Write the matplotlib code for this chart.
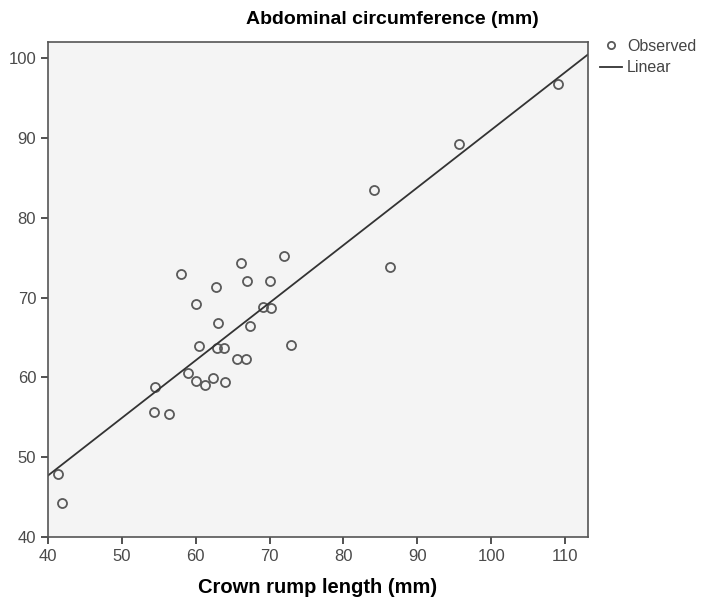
import matplotlib
matplotlib.use("Agg")
import matplotlib.pyplot as plt
import numpy as np

# Crown rump length (mm) vs abdominal circumference (mm)
crl = [41.4, 41.9, 54.5, 54.3, 56.4, 58.0, 59.0, 60.0, 60.0, 60.4,
       61.2, 62.3, 62.7, 63.0, 62.9, 63.8, 64.0, 65.6, 66.1, 66.9,
       66.8, 67.3, 69.1, 70.2, 70.0, 71.9, 72.9, 84.1, 86.3, 95.6, 109.1]
ac = [47.9, 44.3, 58.8, 55.7, 55.4, 73.0, 60.6, 69.2, 59.5, 63.9,
      59.0, 59.9, 71.3, 66.8, 63.7, 63.7, 59.4, 62.3, 74.3, 72.1,
      62.3, 66.4, 68.8, 68.7, 72.1, 75.2, 64.1, 83.5, 73.8, 89.2, 96.8]

x_ticks = [40, 50, 60, 70, 80, 90, 100, 110]
y_ticks = [40, 50, 60, 70, 80, 90, 100]

plt.rcParams['font.family'] = ['Liberation Sans Narrow', 'Liberation Sans', 'DejaVu Sans']

fig = plt.figure(figsize=(7.08, 6.03), dpi=100)
ax = fig.add_axes([0.0678, 0.1095, 0.7627, 0.8205])
ax.set_facecolor('#f4f4f4')

ax.plot(crl, ac, 'o', mfc='none', mec='#5a5a5a', mew=1.3, ms=6.5, label='Observed')

# linear fit line
coeffs = np.polyfit(crl, ac, 1)
xs = np.array([40, 113.1])
ax.plot(xs, np.polyval(coeffs, xs), color='#333333', lw=1.3, label='Linear')

ax.set_xlim(40, 113.1)
ax.set_ylim(40, 102)
ax.set_xticks(x_ticks)
ax.set_yticks(y_ticks)
ax.tick_params(direction='out', length=5, width=1.2, color='#333333',
               labelsize=12, labelcolor='#4a4a4a')
for s in ax.spines.values():
    s.set_color('#555555')
    s.set_linewidth(1.2)

fig.text(0.554, 0.968, 'Abdominal circumference (mm)', ha='center', va='center',
         fontsize=14, fontweight='bold', family=['Liberation Sans', 'DejaVu Sans'])
ax.set_xlabel('Crown rump length (mm)', fontsize=14.5, fontweight='bold',
              family=['Liberation Sans', 'DejaVu Sans'], labelpad=10)

leg = ax.legend(loc='upper left', bbox_to_anchor=(1.01, 1.02), frameon=False,
                fontsize=11.5, handlelength=1.4, handletextpad=0.3,
                labelspacing=0.4, borderaxespad=0, markerscale=0.8)
for t in leg.get_texts():
    t.set_color('#444444')

fig.savefig('out.png', dpi=100)
